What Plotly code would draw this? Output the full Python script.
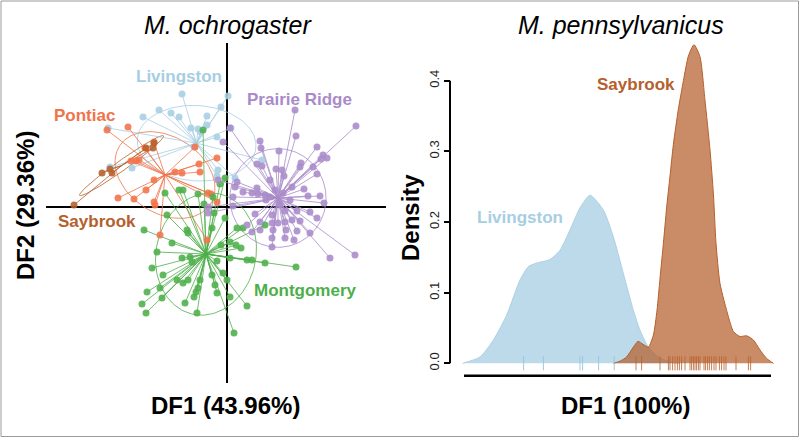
import numpy as np
import plotly.graph_objects as go

# ---------------- Left panel: DAPC scatter (M. ochrogaster) ----------------
liv_df1 = [-2.25, 0.05, -0.30, -3.40, -2.80, -4.20, -2.40, -1.00, -1.80, -1.45, -1.30, 0.20, -1.00, -0.50, -1.65, -5.95, -5.85, -4.75, 1.75, -0.45, 0.40, -0.50]
liv_df2 = [5.65, 5.55, 5.00, 4.85, 4.70, 4.50, 4.50, 4.55, 3.95, 3.90, 3.75, 3.95, 4.10, 3.50, 3.00, 3.95, 2.00, 1.95, 2.35, 1.85, 1.45, 1.55]

pon_df1 = [-6.00, -4.95, -3.65, -4.10, -4.80, -4.40, -4.55, -2.60, -2.25, -1.40, -0.50, -1.35, -1.60, -3.65, -4.05, -4.65, -5.45, -3.60, -0.95, -0.80, -0.50, -3.35, -1.00, -3.65]
pon_df2 = [3.85, 4.00, 3.25, 2.95, 2.30, 2.35, 2.30, 1.75, 1.70, 2.15, 2.45, 1.75, 3.00, 1.35, 0.85, 0.40, 0.45, 0.10, 0.70, 0.65, 0.25, -1.40, -1.65, 0.25]

say_df1 = [-7.65, -6.25, -5.85, -5.75, -4.05, -3.70, -3.65]
say_df2 = [0.10, 1.70, 1.90, 1.70, 2.95, 2.95, 3.20]

mon_df1 = [-1.20, -0.10, -0.35, -3.10, -2.40, -2.20, -1.45, -0.70, -1.15, -3.00, -0.65, -0.10, -4.15, -2.00, -1.95, -0.75, 0.50, 0.80, 1.90,
           -2.75, -0.30, 0.15, 0.45, 0.70, -3.50, -2.25, -1.85, -1.75, -0.50, 0.15, 1.00, 1.25, 1.90, 3.45, -3.75, -3.20, -2.50, -1.95,
           -0.75, -0.20, 0.00, -1.35, -3.35, -2.20, -1.45, -1.55, -0.60, -4.00, -3.25, -1.65, -0.50, 0.15, -4.25, -2.10, 1.00, -4.05, -1.50, 0.35]
mon_df2 = [3.85, 1.45, 1.15, 0.70, 0.85, 0.85, 0.65, 0.50, 0.15, -0.40, -0.30, -0.55, -1.15, -1.15, -1.30, -1.05, -1.05, -1.05, -0.90,
           -1.80, -1.90, -1.75, -1.90, -2.05, -2.25, -2.55, -2.50, -2.75, -2.70, -2.55, -2.65, -2.65, -2.80, -3.00, -3.05, -3.40, -3.65, -3.65,
           -3.40, -3.30, -3.65, -3.65, -4.05, -3.80, -4.05, -4.25, -3.90, -4.25, -4.55, -4.50, -4.30, -4.50, -4.85, -4.80, -4.95, -5.30, -5.30, -6.30]

pra_df1 = [3.40, 6.45, 0.15, -0.20, 1.65, 1.70, 3.45, 4.50, 2.60, 4.80, 5.00, 4.70, 1.50, 1.75, 3.70, 2.45, 2.75, 4.30, 4.50, 3.65, 2.85, 2.15,
           3.25, 3.85, 0.50, 0.40, -0.45, 1.50, 0.80, 1.25, 1.55, 1.90, 2.15, 4.05, 4.65, 0.30, 4.85, -0.95, -0.95, 0.30, 1.40, 2.25, 2.90,
           3.50, 4.15, 4.50, 3.25, 3.65, 2.90, 2.55, 2.25, 1.65, 1.00, 1.25, 1.65, 2.30, 2.95, 3.50, 4.15, 2.25, 2.90, 3.35, 2.25, 5.15, 6.40,
           1.95, 3.15, 2.65, 2.40, 2.80]
pra_df2 = [4.85, 4.05, 3.95, 3.25, 3.30, 2.95, 3.55, 3.00, 2.80, 2.60, 2.45, 2.40, 2.15, 2.05, 2.20, 1.90, 1.85, 2.00, 1.65, 2.00, 1.55, 1.35,
           1.00, 0.90, 1.25, 1.00, 1.35, 0.95, 0.75, 0.70, 0.65, 0.60, 0.50, 0.55, 0.55, 0.50, 0.20, -0.30, 0.00, 0.05, -0.35, -0.40, -0.20,
           -0.20, -0.25, -0.55, -0.65, -0.70, -0.75, -0.80, -0.80, -0.75, -0.90, -1.25, -1.15, -1.15, -1.15, -1.20, -1.30, -1.55, -1.55, -1.65,
           -2.00, -2.55, -2.40, 0.35, 0.35, 0.10, 0.85, 0.70]

# group centroids (star centres)
centroid_df1 = {"Livingston": -1.52, "Pontiac": -3.10, "Saybrook": -5.27, "Montgomery": -1.05, "Prairie Ridge": 2.55}
centroid_df2 = {"Livingston": 3.19, "Pontiac": 1.60, "Saybrook": 2.07, "Montgomery": -2.35, "Prairie Ridge": 0.45}

# ---------------- Right panel: densities (M. pennsylvanicus) ----------------
liv_dens_x = [-7.87, -7.00, -6.33, -5.67, -5.00, -4.58, -4.17, -3.50, -3.00, -2.50, -2.00, -1.50, -0.83, -0.33, 0.17, 0.67, 1.00, 1.42, 2.00, 2.65, 3.00]
liv_dens_y = [0.000, 0.009, 0.033, 0.068, 0.118, 0.137, 0.142, 0.147, 0.160, 0.189, 0.220, 0.238, 0.217, 0.179, 0.127, 0.075, 0.047, 0.023, 0.0075, 0.001, 0.000]

say_dens_x = [-0.33, 0.00, 0.33, 0.67, 0.90, 1.15, 1.42, 1.67, 1.85, 2.00, 2.17, 2.33, 2.50, 2.67, 2.92, 3.17, 3.42, 3.70, 4.00, 4.25, 4.50,
              4.67, 4.80, 5.00, 5.42, 5.67, 6.00, 6.33, 6.67, 7.00, 7.33, 7.67]
say_dens_y = [0.000, 0.003, 0.009, 0.023, 0.031, 0.027, 0.023, 0.040, 0.075, 0.120, 0.170, 0.220, 0.265, 0.310, 0.360, 0.400, 0.435, 0.451,
              0.434, 0.372, 0.302, 0.240, 0.170, 0.113, 0.066, 0.045, 0.038, 0.039, 0.033, 0.019, 0.007, 0.000]

liv_rug = [-4.82, -3.83, -2.00, -1.87, -1.07, -0.29]
say_rug = [0.80, 1.08, 2.00, 2.42, 2.50, 2.63, 2.75, 2.87, 2.97, 3.08, 3.25, 3.50, 3.58, 3.67, 3.75, 3.83, 3.92, 4.00, 4.20, 4.28,
           4.38, 4.47, 4.58, 4.70, 4.80, 4.97, 5.08, 5.20, 5.30, 5.80, 6.42, 6.53]

density_ticks = [0.0, 0.1, 0.2, 0.3, 0.4]

COL = {"Livingston": "#A6CEE3", "Pontiac": "#F2734A", "Saybrook": "#B5602C",
       "Montgomery": "#4DAF4A", "Prairie Ridge": "#A98BC9"}

def rgba(hexc, a):
    h = hexc.lstrip("#")
    return "rgba(%d,%d,%d,%.2f)" % (int(h[0:2], 16), int(h[2:4], 16), int(h[4:6], 16), a)

groups = [("Livingston", liv_df1, liv_df2), ("Pontiac", pon_df1, pon_df2), ("Saybrook", say_df1, say_df2),
          ("Montgomery", mon_df1, mon_df2), ("Prairie Ridge", pra_df1, pra_df2)]

fig = go.Figure()
FONT = "Liberation Sans, Arial, Helvetica, sans-serif"

# ellipses (1.5 sd covariance ellipses)
for name, xs, ys in groups:
    P = np.column_stack([xs, ys])
    cov = np.cov(P.T, bias=True)
    vals, vecs = np.linalg.eigh(cov)
    t = np.linspace(0, 2 * np.pi, 120)
    c = np.array([centroid_df1[name], centroid_df2[name]])
    e = (c[:, None] + 1.5 * (np.sqrt(vals[1]) * np.outer(vecs[:, 1], np.cos(t))
                             + np.sqrt(vals[0]) * np.outer(vecs[:, 0], np.sin(t))))
    fig.add_trace(go.Scatter(x=e[0], y=e[1], mode="lines", line=dict(color=rgba(COL[name], 0.8), width=1),
                             hoverinfo="skip", showlegend=False, xaxis="x", yaxis="y"))

# stars
for name, xs, ys in groups:
    sx, sy = [], []
    for a, b in zip(xs, ys):
        sx += [centroid_df1[name], a, None]
        sy += [centroid_df2[name], b, None]
    fig.add_trace(go.Scatter(x=sx, y=sy, mode="lines", line=dict(color=rgba(COL[name], 0.8), width=1),
                             hoverinfo="skip", showlegend=False, xaxis="x", yaxis="y"))

# points
for name, xs, ys in groups:
    fig.add_trace(go.Scatter(x=xs, y=ys, mode="markers", name=name,
                             marker=dict(color=rgba(COL[name], 0.88), size=7, line=dict(width=0)),
                             showlegend=False, xaxis="x", yaxis="y"))

# densities
fig.add_trace(go.Scatter(x=liv_dens_x, y=liv_dens_y, mode="lines", fill="tozeroy",
                         fillcolor="rgba(166,206,227,0.75)", line=dict(color="rgba(166,206,227,0.9)", width=1, shape="spline", smoothing=0.6),
                         showlegend=False, xaxis="x2", yaxis="y2"))
fig.add_trace(go.Scatter(x=say_dens_x, y=say_dens_y, mode="lines", fill="tozeroy",
                         fillcolor="rgba(181,96,44,0.72)", line=dict(color="rgba(181,96,44,1)", width=1, shape="spline", smoothing=0.6),
                         showlegend=False, xaxis="x2", yaxis="y2"))
# rugs
fig.add_trace(go.Scatter(x=liv_rug, y=[0] * len(liv_rug), mode="markers",
                         marker=dict(symbol="line-ns-open", size=10, color="rgba(150,195,220,0.9)",
                                     line=dict(color="rgba(150,195,220,0.9)", width=1)),
                         showlegend=False, xaxis="x2", yaxis="y2"))
fig.add_trace(go.Scatter(x=say_rug, y=[0] * len(say_rug), mode="markers",
                         marker=dict(symbol="line-ns-open", size=10, color="rgba(181,96,44,0.8)",
                                     line=dict(color="rgba(181,96,44,0.8)", width=1)),
                         showlegend=False, xaxis="x2", yaxis="y2"))

W, H = 800, 438
def px(x): return x / W
def py(y): return 1 - y / H

fig.update_layout(
    width=W, height=H, margin=dict(l=0, r=0, t=0, b=0),
    paper_bgcolor="white", plot_bgcolor="rgba(0,0,0,0)",
    font=dict(family=FONT, color="black"),
    xaxis=dict(domain=[px(45.7), px(385.7)], range=[-9.065, 7.935], showgrid=False, zeroline=True,
               zerolinecolor="black", zerolinewidth=2, showticklabels=False, ticks="", showline=False, anchor="y"),
    yaxis=dict(domain=[py(383), py(43)], range=[-8.8, 8.2], showgrid=False, zeroline=True,
               zerolinecolor="black", zerolinewidth=2, showticklabels=False, ticks="", showline=False, anchor="x"),
    xaxis2=dict(domain=[px(455), px(785)], range=[-8.25, 8.25], showgrid=False, zeroline=False,
                showticklabels=False, ticks="", showline=False, anchor="y2"),
    yaxis2=dict(domain=[py(380), py(40)], range=[-0.0236, 0.4576], showgrid=False, zeroline=False,
                tickvals=density_ticks, ticktext=["%.1f" % v for v in density_ticks], ticks="outside",
                ticklen=6, tickwidth=1.5, tickcolor="black", tickangle=-90,
                tickfont=dict(size=13, color="#222", family=FONT), showline=False,
                anchor="free", position=px(450)),
)

shapes = [
    dict(type="line", xref="paper", yref="y2", x0=px(450), x1=px(450), y0=0, y1=0.4, line=dict(color="black", width=2)),
    dict(type="line", xref="paper", yref="paper", x0=px(464), x1=px(771), y0=py(375.7), y1=py(375.7), line=dict(color="black", width=2.5)),
    dict(type="rect", xref="paper", yref="paper", x0=px(1), x1=px(798.5), y0=py(436.5), y1=py(1), line=dict(color="#9a9a9a", width=1)),
]
fig.update_layout(shapes=shapes)

def ann(text, x, y, size, color="black", angle=0):
    return dict(text=text, x=px(x), y=py(y), xref="paper", yref="paper", showarrow=False,
                xanchor="center", yanchor="middle", textangle=angle,
                font=dict(size=size, color=color, family=FONT))

annotations = [
    ann("<i>M. ochrogaster</i>", 228, 25, 25),
    ann("<i>M. pennsylvanicus</i>", 621, 25, 25),
    ann("<b>DF1 (43.96%)</b>", 225, 405, 24),
    ann("<b>DF2 (29.36%)</b>", 25, 206, 24, angle=-90),
    ann("<b>DF1 (100%)</b>", 625, 405, 24),
    ann("<b>Density</b>", 411, 218, 24, angle=-90),
    ann("<b>Livingston</b>", 179, 77, 17, COL["Livingston"]),
    ann("<b>Prairie Ridge</b>", 299, 99, 17, COL["Prairie Ridge"]),
    ann("<b>Pontiac</b>", 84, 115, 17, COL["Pontiac"]),
    ann("<b>Saybrook</b>", 97, 221, 17, COL["Saybrook"]),
    ann("<b>Montgomery</b>", 305, 290, 17, COL["Montgomery"]),
    ann("<b>Saybrook</b>", 636, 84, 17, COL["Saybrook"]),
    ann("<b>Livingston</b>", 520, 218, 17, COL["Livingston"]),
]
fig.update_layout(annotations=annotations)

fig.write_html("out.html", config={"displayModeBar": False},
               post_script="document.body.style.margin='0px';document.body.style.padding='0px';")
